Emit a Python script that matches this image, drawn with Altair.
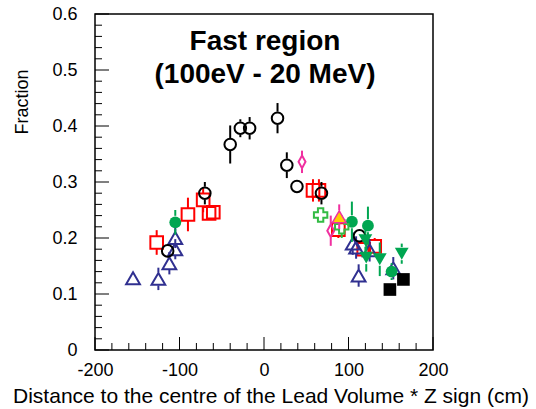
import altair as alt
import pandas as pd

FONT = "Liberation Sans"

# ---- measurements: position (cm), fraction, uncertainty ----
circ_x = [-114, -70, -40, -28, -17, 16, 27, 39, 68, 113]
circ_y = [0.177, 0.280, 0.367, 0.396, 0.396, 0.414, 0.330, 0.292, 0.280, 0.204]
circ_e = [0.012, 0.020, 0.034, 0.016, 0.020, 0.027, 0.023, 0.008, 0.020, 0.012]

sq_x = [-127, -90, -72, -65, -60, 58, 65, 88, 118, 131]
sq_y = [0.192, 0.242, 0.268, 0.244, 0.246, 0.285, 0.285, 0.215, 0.180, 0.185]
sq_e = [0.022, 0.030, 0.022, 0.010, 0.010, 0.020, 0.020, 0.015, 0.015, 0.015]

tri_x = [-155, -125, -112, -105, -105, 105, 109, 125, 112, 153]
tri_y = [0.128, 0.127, 0.155, 0.180, 0.200, 0.190, 0.183, 0.178, 0.133, 0.146]
tri_e = [0.008, 0.020, 0.020, 0.018, 0.018, 0.020, 0.020, 0.020, 0.020, 0.020]

gdot_x = [-105, 104, 123, 151]
gdot_y = [0.228, 0.229, 0.222, 0.140]
gdot_e = [0.022, 0.036, 0.034, 0.015]

gdown_x = [120, 121, 137, 163]
gdown_y = [0.196, 0.165, 0.162, 0.172]
gdown_e = [0.030, 0.025, 0.030, 0.018]

bsq_x = [149, 165]
bsq_y = [0.108, 0.126]
bsq_e = [0.005, 0.010]

dia_x = [45, 79]
dia_y = [0.336, 0.213]
dia_e = [0.020, 0.027]

plus_x = [67, 92]
plus_y = [0.241, 0.220]
plus_e = [0.010, 0.020]

ytri_x = [89]
ytri_y = [0.238]
ytri_e = [0.022]

title_lines = ["Fast region", "(100eV - 20 MeV)"]
x_title = "Distance to the centre of the Lead Volume * Z sign (cm)"
y_title = "Fraction"
x_ticks_major = [-200, -100, 0, 100, 200]
x_ticks_minor = [-180, -160, -140, -120, -80, -60, -40, -20,
                 20, 40, 60, 80, 120, 140, 160, 180]
y_ticks_major = [0.0, 0.1, 0.2, 0.3, 0.4, 0.5, 0.6]
y_ticks_minor = [0.02, 0.04, 0.06, 0.08, 0.12, 0.14, 0.16, 0.18,
                 0.22, 0.24, 0.26, 0.28, 0.32, 0.34, 0.36, 0.38,
                 0.42, 0.44, 0.46, 0.48, 0.52, 0.54, 0.56, 0.58]

W, H = 338, 336
XS = alt.Scale(domain=[-200, 200], nice=False, zero=False)
YS = alt.Scale(domain=[0, 0.6], nice=False, zero=False)
GAP = 6.5 / (H / 0.6)  # marker half-height in data units

# one axis definition shared by every layer, so they merge cleanly
XA = alt.Axis(values=x_ticks_major, ticks=False, domain=False, grid=False,
              labelFont=FONT, labelFontSize=18, labelColor="black",
              labelPadding=11, labelFlush=False, title=None,
              labelExpr="toString(datum.value)")
YA = alt.Axis(values=y_ticks_major, ticks=False, domain=False, grid=False,
              labelFont=FONT, labelFontSize=18, labelColor="black",
              labelPadding=18, labelFlush=False, title=None,
              labelExpr="datum.value == 0 ? '0' : format(datum.value, '.1f')")


def xq(field):
    return alt.X(f"{field}:Q", scale=XS, axis=XA)


def yq(field):
    return alt.Y(f"{field}:Q", scale=YS, axis=YA)


NARROW_DIAMOND = "M0,-1L0.55,0L0,1L-0.55,0Z"

styles = [
    (sq_x, sq_y, sq_e, dict(color="#ff0000", shape="square", filled=False, size=160)),
    (tri_x, tri_y, tri_e, dict(color="#303090", shape="triangle-up", filled=False, size=190)),
    (circ_x, circ_y, circ_e, dict(color="black", shape="circle", filled=False, size=133)),
    (gdot_x, gdot_y, gdot_e, dict(color="#00a651", shape="circle", filled=True, size=140)),
    (gdown_x, gdown_y, gdown_e, dict(color="#00a651", shape="triangle-down", filled=True, size=190)),
    (bsq_x, bsq_y, bsq_e, dict(color="black", shape="square", filled=True, size=160)),
    (dia_x, dia_y, dia_e, dict(color="#f030a0", shape=NARROW_DIAMOND, filled=False, size=160)),
    (plus_x, plus_y, plus_e, dict(color="#33bb44", shape="cross", filled=False, size=180)),
    (ytri_x, ytri_y, ytri_e, dict(color="#f030a0", shape="triangle-up", filled=False, size=190, fill="#ffd000")),
]

layers = []

# inward ticks along the bottom and left edges
tick_specs = [
    (x_ticks_major, "x", 13),
    (x_ticks_minor, "x", 7),
    (y_ticks_major, "y", 14),
    (y_ticks_minor, "y", 7),
]
for vals, ax, ln in tick_specs:
    df = pd.DataFrame({"v": vals})
    if ax == "x":
        enc = dict(x=xq("v"), y=alt.value(H), y2=alt.value(H - ln))
    else:
        enc = dict(y=yq("v"), x=alt.value(0), x2=alt.value(ln))
    layers.append(alt.Chart(df).mark_rule(color="black", strokeWidth=1).encode(**enc))

for xs, ys, es, st in styles:
    df = pd.DataFrame({"x": xs, "y": ys, "e": es})
    df["lo"] = df["y"] - df["e"]
    df["lo2"] = df["y"] - GAP
    df["hi"] = df["y"] + df["e"]
    df["hi2"] = df["y"] + GAP
    bars = df[df["e"] > GAP]
    for a, b in (("lo", "lo2"), ("hi2", "hi")):
        layers.append(
            alt.Chart(bars).mark_rule(color=st["color"], strokeWidth=2).encode(
                x=xq("x"), y=yq(a), y2=f"{b}:Q",
            )
        )
    mk = dict(shape=st["shape"], size=st["size"], opacity=1)
    if "fill" in st:
        mk.update(filled=True, fill=st["fill"], stroke=st["color"], strokeWidth=1.5)
    elif st["filled"]:
        mk.update(filled=True, color=st["color"], strokeWidth=0)
    else:
        mk.update(filled=False, color=st["color"], strokeWidth=2)
    layers.append(alt.Chart(df).mark_point(**mk).encode(x=xq("x"), y=yq("y")))

# headline inside the frame
for txt, base in zip(title_lines, [36, 69]):
    layers.append(
        alt.Chart(pd.DataFrame({"t": [txt]})).mark_text(
            font=FONT, fontSize=28, fontWeight="bold", color="black",
            align="center", baseline="alphabetic",
        ).encode(text="t:N", x=alt.value(170), y=alt.value(base))
    )

# axis titles
layers.append(
    alt.Chart(pd.DataFrame({"t": [x_title]})).mark_text(
        font=FONT, fontSize=21, color="black", align="center", baseline="alphabetic",
    ).encode(text="t:N", x=alt.value(176), y=alt.value(389))
)
layers.append(
    alt.Chart(pd.DataFrame({"t": [y_title]})).mark_text(
        font=FONT, fontSize=18, color="black", align="center", baseline="alphabetic",
        angle=270,
    ).encode(text="t:N", x=alt.value(-67), y=alt.value(88))
)

chart = alt.layer(*layers).properties(
    width=W, height=H,
    autosize=alt.AutoSizeParams(type="none"),
    padding={"left": 95, "top": 14, "right": 103, "bottom": 59},
    background="white",
).configure_view(stroke="black", strokeWidth=1.5)

chart.save("out.html", embed_options={"renderer": "svg", "actions": False})
